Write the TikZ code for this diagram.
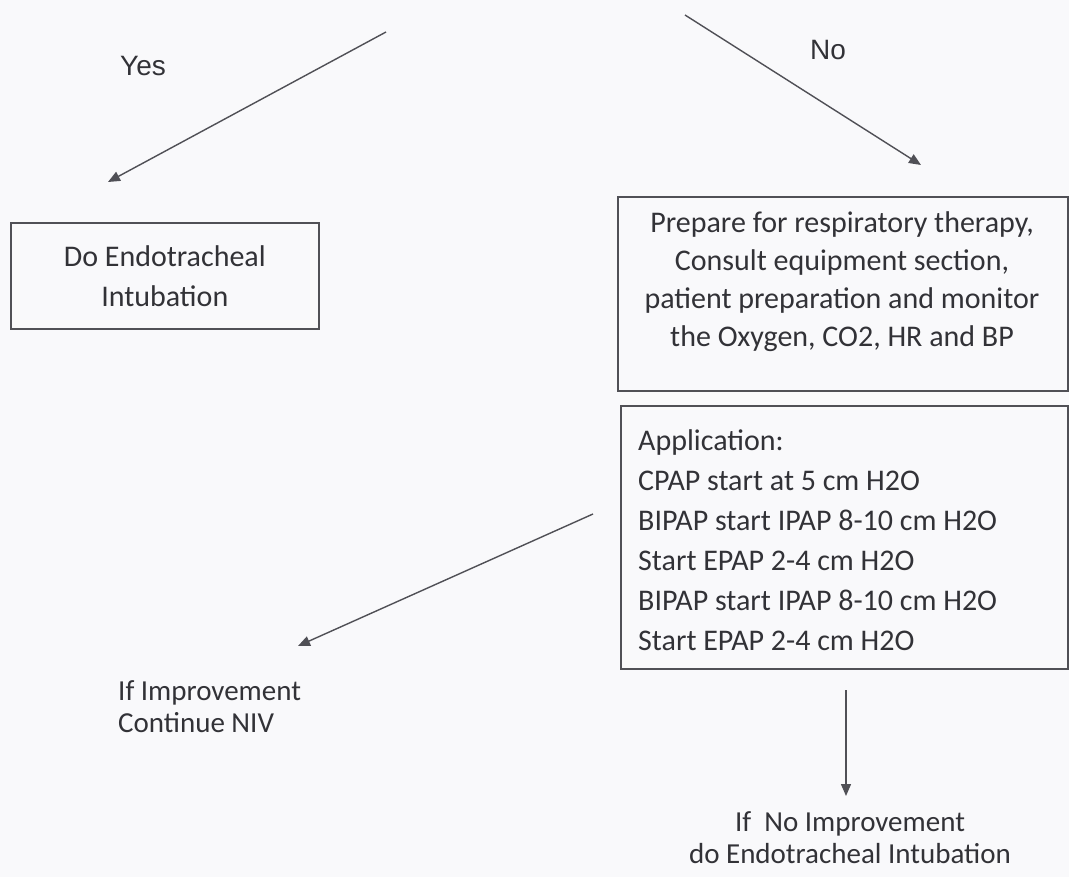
\documentclass[tikz,border=0pt]{standalone}
\usepackage{fontspec}
\setmainfont{Carlito}
\newfontfamily\arialf{Liberation Sans}
\usetikzlibrary{arrows.meta}
\definecolor{bg}{RGB}{249,249,251}
\definecolor{ln}{RGB}{80,80,86}
\definecolor{tx}{RGB}{50,50,55}
\begin{document}
\begin{tikzpicture}[x=1pt,y=-1pt,
  box/.style={draw=ln, line width=1.6pt, rectangle, inner sep=0pt, anchor=north west},
  txt/.style={text=tx, font=\fontsize{30}{38}\selectfont, inner sep=0pt},
  apptxt/.style={text=tx, font=\fontsize{30}{40}\selectfont, inner sep=0pt},
  smalltxt/.style={text=tx, font=\fontsize{29}{32}\selectfont, inner sep=0pt},
  arr/.style={draw=ln, line width=1.4pt, -{Triangle[length=12pt,width=10pt]}},
  lbl/.style={text=tx, font=\arialf\fontsize{28}{34}\selectfont, inner sep=0pt}]
\fill[bg] (0,0) rectangle (1069,877);
\useasboundingbox (0,0) rectangle (1069,877);

% labels
\node[lbl] (yes) at (143,66) {Yes};
\node[lbl] (no) at (828,50) {No};

% arrow ends
\coordinate (yesS) at (386,32);
\coordinate (yesE) at (108,182);
\coordinate (noS) at (685,15);
\coordinate (noE) at (921,165);

% boxes
\node[box, minimum width=308pt, minimum height=106pt] (intub) at (10,222) {};
\node[txt, align=center, font=\fontsize{30}{40}\selectfont] (intubt) at (intub.center) {Do Endotracheal\\Intubation};

\node[box, minimum width=450pt, minimum height=194pt] (prep) at (617,196) {};
\node[txt, align=center] (prept) at (842,282) {Prepare for respiratory therapy,\\Consult equipment section,\\patient preparation and monitor\\the Oxygen, CO2, HR and BP};

\node[box, minimum width=447pt, minimum height=263pt] (app) at (620,405) {};
\node[apptxt, align=left, anchor=west] (appt) at (638,540) {Application:\\CPAP start at 5 cm H2O\\BIPAP start IPAP 8-10 cm H2O\\Start EPAP 2-4 cm H2O\\BIPAP start IPAP 8-10 cm H2O\\Start EPAP 2-4 cm H2O};

% outcomes
\node[smalltxt, align=left, anchor=west] (impr) at (118,707) {If Improvement\\Continue NIV};
\node[smalltxt, align=center] (noimpr) at (850,838) {If\ \ No Improvement\\do Endotracheal Intubation};

\coordinate (lS) at (593,514);
\coordinate (lE) at (298,646);
\coordinate (dS) at (846,690);
\coordinate (dE) at (846,796);

% connectors
\draw[arr] (yesS) -- (yesE);
\draw[arr] (noS) -- (noE);
\draw[arr] (lS) -- (lE);
\draw[arr] (dS) -- (dE);
\end{tikzpicture}
\end{document}
